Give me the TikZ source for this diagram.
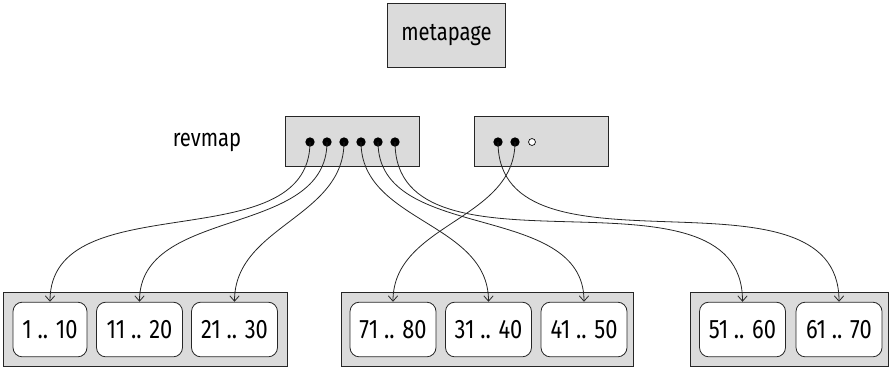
\documentclass[tikz,border=0pt]{standalone}
\usepackage{fontspec}
\setmainfont{Fira Sans}[FakeStretch=0.82]
\usepackage{tikz}
\usetikzlibrary{arrows.meta}

\begin{document}
\begin{tikzpicture}[x=0.75pt,y=-0.75pt,
  page/.style={draw=black!85,fill=black!14,line width=0.6pt,inner sep=0pt},
  rangebox/.style={draw=black!85,fill=white,rounded corners=7pt,line width=0.6pt,inner sep=0pt,minimum height=41pt,minimum width=64.5pt,font=\fontsize{20}{24}\selectfont},
  ptr/.style={circle,fill=black,inner sep=0pt,minimum size=7pt},
  freeptr/.style={circle,draw=black,fill=white,line width=0.5pt,inner sep=0pt,minimum size=5.2pt},
  link/.style={-{Straight Barb[length=4pt,width=7pt]},line width=0.6pt,black!85},
  lab/.style={font=\fontsize{18.5}{22}\selectfont}]
\useasboundingbox (0,0) rectangle (892,369);
% pages
\node[page,minimum width=89pt,minimum height=48pt,lab] (meta) at (446.5,35) {metapage};
\node[page,minimum width=100.5pt,minimum height=37pt] (rev1) at (352,141.5) {};
\node[page,minimum width=100.5pt,minimum height=37pt] (rev2) at (541,141.5) {};
\node[lab] (revlab) at (207,142) {revmap};
\node[page,minimum width=213pt,minimum height=56pt] (grp1) at (145,329.5) {};
\node[page,minimum width=219pt,minimum height=56pt] (grp2) at (487,329.5) {};
\node[page,minimum width=149pt,minimum height=56pt] (grp3) at (789.5,329.5) {};
% block ranges
\node[rangebox,minimum width=55.5pt] (r1) at (50,329.5) {1 .. 10};
\node[rangebox] (r2) at (139.5,329.5) {11 .. 20};
\node[rangebox] (r3) at (234.5,329.5) {21 .. 30};
\node[rangebox] (r8) at (393,329.5) {71 .. 80};
\node[rangebox] (r4) at (488.5,329.5) {31 .. 40};
\node[rangebox] (r5) at (584,329.5) {41 .. 50};
\node[rangebox] (r6) at (742.5,329.5) {51 .. 60};
\node[rangebox] (r7) at (839,329.5) {61 .. 70};
% revmap entries
\foreach \i in {1,...,6}
  \node[ptr] (p\i) at (293+17*\i,142) {};
\node[ptr] (q1) at (498,142) {};
\node[ptr] (q2) at (515,142) {};
\node[freeptr] (q3) at (532,142) {};
\foreach \a/\b in {p1/r1,p2/r2,p3/r3,p4/r4,p5/r5,p6/r6,q1/r7,q2/r8}
  \draw[link] (\a.center) to[out=-90,in=90] (\b.north);
\end{tikzpicture}
\end{document}
